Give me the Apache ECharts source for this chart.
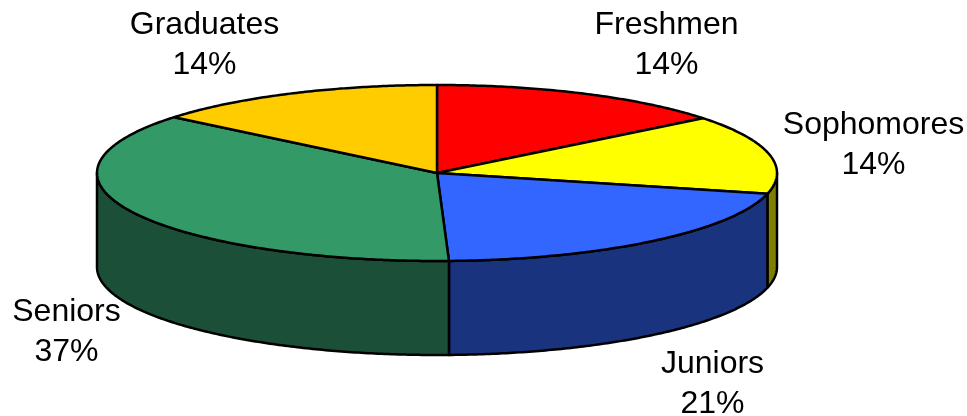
<!DOCTYPE html>
<html>
<head>
<meta charset="utf-8">
<style>html,body{margin:0;padding:0;background:#fff}#c{width:967px;height:416px}</style>
<script src="https://cdn.jsdelivr.net/npm/echarts@6/dist/echarts.min.js"></script>
</head>
<body>
<div id="c"></div>
<script>
// Data
const categories = ['Freshmen', 'Sophomores', 'Juniors', 'Seniors', 'Graduates'];
const shares = [14.3, 14.49, 20.65, 36.5, 14.06];
const percentLabels = ['14%', '14%', '21%', '37%', '14%'];

// Style and layout
const topColors = ['#FF0000', '#FFFF00', '#3366FF', '#339966', '#FFCC00'];
const wallColors = ['#800000', '#808000', '#1A337F', '#1C4F37', '#806600'];
const labelCentres = [[666.5, 45], [873.5, 145], [712.5, 384], [66.5, 332], [204.5, 45]];
const CX = 437, CY = 173, RX = 340, RY = 88, DEPTH = 94;

const total = shares.reduce((a, b) => a + b, 0);
const starts = [];
shares.reduce((acc, v, i) => { starts[i] = acc; return acc + v; }, 0);

// Clockwise angle from 12 o'clock to a point on the tilted rim.
const rim = (a, dy) => [CX + RX * Math.sin(a), CY - RY * Math.cos(a) + dy];
const arc = (a0, a1, dy) => {
  const n = Math.max(2, Math.ceil(Math.abs(a1 - a0) / 0.01));
  const pts = [];
  for (let i = 0; i <= n; i++) pts.push(rim(a0 + (a1 - a0) * i / n, dy));
  return pts;
};

function renderItem(params, api) {
  const i = params.dataIndex;
  const a0 = starts[i] / total * 2 * Math.PI;
  const a1 = a0 + api.value(0) / total * 2 * Math.PI;
  const children = [];
  const stroke = { stroke: '#000', lineWidth: 2.5, lineJoin: 'round' };

  // Side wall: only the part of the rim on the front half of the disc.
  const w0 = Math.max(a0, Math.PI / 2), w1 = Math.min(a1, 3 * Math.PI / 2);
  if (w1 > w0) {
    children.push({
      type: 'polygon',
      shape: { points: arc(w0, w1, 0).concat(arc(w1, w0, DEPTH)) },
      style: Object.assign({ fill: wallColors[i] }, stroke)
    });
  }
  children.push({
    type: 'polygon',
    z2: 2,
    shape: { points: [[CX, CY]].concat(arc(a0, a1, 0)) },
    style: Object.assign({ fill: topColors[i] }, stroke)
  });
  children.push({
    type: 'text',
    z2: 3,
    style: {
      x: labelCentres[i][0],
      y: labelCentres[i][1],
      text: categories[i] + '\n' + percentLabels[i],
      fontFamily: 'Liberation Sans',
      fontSize: 32,
      lineHeight: 40,
      fill: '#000',
      align: 'center',
      verticalAlign: 'middle'
    }
  });
  return { type: 'group', children };
}

const chart = echarts.init(document.getElementById('c'), null, { renderer: 'canvas' });
chart.setOption({
  animation: false,
  backgroundColor: '#fff',
  series: [{
    type: 'custom',
    coordinateSystem: 'none',
    renderItem,
    silent: true,
    data: shares.map((v, i) => ({ name: categories[i], value: [v] }))
  }]
});
</script>
</body>
</html>
